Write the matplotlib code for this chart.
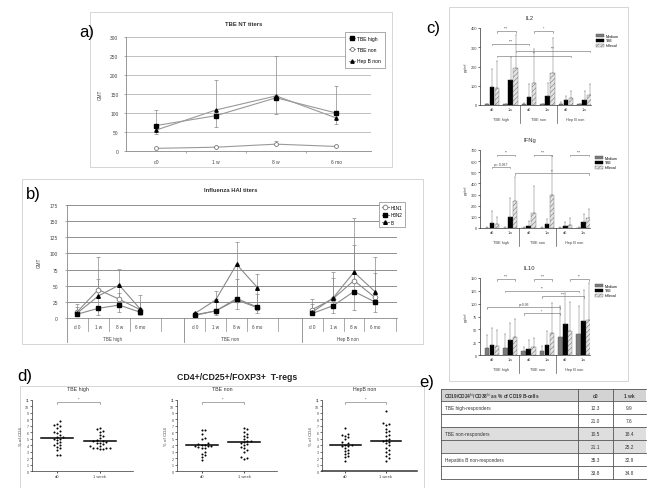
import numpy as np
import matplotlib.pyplot as plt
from matplotlib.patches import Rectangle

plt.rcParams['font.family'] = ['Liberation Sans', 'DejaVu Sans']
plt.rcParams['hatch.linewidth'] = 0.4
plt.rcParams['hatch.color'] = '#777777'

W, H = 660, 489

# a) TBE NT titers
a_times = ['d0', '1 w', '8 w', '6 mo']
a_tbe_high = [67, 93, 140, 100]
a_tbe_non = [7, 10, 18, 12]
a_hepb_non = [55, 108, 145, 87]
a_err_bottom = [45, 62, 97, 72]
a_err_top = [107, 187, 250, 172]
a_non_err_top = [9, 13, 26, 15]

# b) Influenza HAI titers
b_groups = ['TBE high', 'TBE non', 'Hep B non']
b_times = ['d 0', '1 w', '8 w', '6 mo']
b_h1n1 = [[10, 44, 29, 13], [5, 11, 28, 16], [13, 30, 58, 32]]
b_h3n2 = [[6, 15, 20, 9], [4, 11, 30, 17], [7, 19, 41, 25]]
b_b = [[8, 34, 51, 14], [7, 28, 83, 47], [9, 31, 71, 41]]
b_err_top = [[22, 94, 76, 35], [10, 42, 118, 68], [30, 72, 155, 94]]
b_err_top2 = [[17, 60, 38, 25], [8, 30, 60, 37], [22, 62, 113, 70]]
b_err_bottom = [[3, 5, 9, 5], [2, 5, 14, 7], [4, 8, 13, 9]]

# c) cytokines
c_ticks = ['d0', '1w', 'd0', '1w', 'd0', '1w']
c_groups = ['TBE high', 'TBE non', 'Hep B non']
c_stims = ['Medium', 'TBE', 'Inflexal']
il2_medium = [3, 3, 4, 3, 5, 3]
il2_tbe = [95, 130, 40, 45, 25, 28]
il2_infl = [90, 190, 115, 165, 35, 50]
il2_medium_top = [6, 6, 8, 6, 17, 6]
il2_tbe_top = [188, 249, 110, 113, 49, 71]
il2_infl_top = [231, 362, 289, 348, 75, 108]
il2_sig = [(0.27, 1.27, 384, '***'), (2.27, 3.27, 384, '*'), (0, 2, 318, '***'),
           (1.27, 5.27, 283, '***'), (0.27, 4.27, 257, '**')]

ifng_medium = [3, 3, 4, 3, 3, 3]
ifng_tbe = [45, 100, 20, 35, 20, 50]
ifng_infl = [40, 245, 135, 295, 30, 90]
ifng_medium_top = [6, 6, 8, 6, 6, 6]
ifng_tbe_top = [149, 265, 60, 85, 55, 125]
ifng_infl_top = [98, 456, 375, 650, 90, 175]
ifng_sig = [(0.27, 1.27, 658, '**'), (0, 1, 551, 'p= 0.067'), (2.27, 3.27, 658, '***'),
            (4.27, 5.27, 658, '***'), (1.27, 5.27, 492, '**')]

il10_medium = [14, 14, 8, 8, 35, 41]
il10_tbe = [20, 30, 12, 20, 60, 66]
il10_infl = [17, 35, 15, 42, 47, 69]
il10_medium_top = [38, 41, 16, 18, 96, 96]
il10_tbe_top = [52, 63, 30, 46, 120, 127]
il10_infl_top = [48, 70, 34, 102, 103, 140]
il10_sig = [(0.27, 1.27, 148, '***'), (2.27, 3.27, 148, '***'), (4.27, 5.27, 148, '**'),
            (0.73, 4.73, 125, '**'), (2.73, 5.0, 114, '***'), (-0.27, 3.73, 93, 'p=0.06'),
            (1.73, 3.73, 81, '*')]

# d) T-regs, % of CD4
d_titles = ['TBE high', 'TBE non', 'HepB non']
d_d0 = [[7.7, 7.3, 7.1, 7.0, 6.7, 6.2, 6.0, 5.9, 5.6, 5.3, 5.2, 5.0, 4.9, 4.8, 4.5, 4.3, 4.1, 4.0, 3.7, 3.5, 3.2, 2.5, 2.5],
        [6.4, 6.3, 5.7, 5.1, 5.0, 4.4, 4.2, 4.1, 4.0, 3.9, 3.8, 3.8, 3.7, 3.6, 3.5, 3.0, 2.7, 2.5, 2.2, 1.7],
        [6.6, 5.7, 5.6, 5.4, 5.2, 4.9, 4.5, 4.3, 4.1, 4.0, 3.9, 3.8, 3.6, 3.3, 3.1, 2.8, 2.6, 2.3, 2.1, 1.5]]
d_wk1 = [[6.6, 6.5, 6.2, 6.1, 5.6, 5.4, 5.1, 4.8, 4.7, 4.6, 4.5, 4.4, 4.3, 4.2, 3.9, 3.8, 3.6, 3.5, 3.5, 3.5, 3.4, 3.4],
         [6.7, 6.5, 6.1, 5.8, 5.5, 5.2, 5.0, 4.7, 4.6, 4.5, 4.4, 4.2, 4.0, 3.7, 3.5, 3.3, 2.9, 2.2, 2.0, 1.9],
         [9.3, 7.5, 7.3, 7.2, 6.5, 6.2, 6.0, 5.6, 5.4, 5.0, 4.8, 4.7, 4.5, 4.3, 4.0, 3.6, 3.3, 3.0, 2.7, 2.3, 2.0, 1.6]]
d_lines = [[5.1, 4.7], [4.0, 4.5], [4.0, 4.7]]

# e) table
e_header = ['CD19/CD24$^{\\rm hi}$/CD38$^{\\rm hi}$ as % of CD19 B-cells', 'd0', '1 wk']
e_rows = ['TBE high-responders', '', 'TBE non-responders', '', 'Hepatitis B non-responders', '']
e_d0 = ['12.3', '21.0', '10.5', '21.1', '35.3', '33.8']
e_wk1 = ['9.9', '7.6', '18.4', '25.2', '32.9', '34.8']

TXT = '#444444'


def rect(l, t, r, b):
    return [l / W, 1 - b / H, (r - l) / W, (b - t) / H]


fig = plt.figure(figsize=(W / 100, H / 100), dpi=100)
bg = fig.add_axes([0, 0, 1, 1], zorder=-5)
bg.set_xlim(0, W)
bg.set_ylim(H, 0)
bg.axis('off')

# panel frames and labels
for l, t, r, b in [(90, 13, 392, 168), (22, 180, 423, 345), (449, 8, 628, 382), (20, 387, 424, 492)]:
    bg.add_patch(Rectangle((l, t), r - l, b - t, fill=False, ec='#cfcfcf', lw=0.6))
for lab, x, y in [('a)', 87, 32), ('b)', 33, 195), ('c)', 433, 28), ('d)', 25, 377), ('e)', 427, 383)]:
    bg.text(x, y, lab, fontsize=12, ha='center', va='center', color='black')
bg.text(237, 377, 'CD4+/CD25+/FOXP3+  T-regs', fontsize=6.3, fontweight='bold',
        ha='center', va='center', color='#222222')

# ---------- a)
ax = fig.add_axes(rect(126, 38, 371, 152))
x = np.arange(len(a_times))
ax.errorbar(x, a_tbe_high, yerr=[np.subtract(a_tbe_high, a_err_bottom), np.subtract(a_err_top, a_tbe_high)],
            fmt='none', ecolor='#888888', elinewidth=0.5, capsize=1.2, capthick=0.5)
ax.errorbar(x, a_tbe_non, yerr=[np.zeros(4), np.subtract(a_non_err_top, a_tbe_non)],
            fmt='none', ecolor='#888888', elinewidth=0.5, capsize=1.2, capthick=0.5)
ax.plot(x, a_tbe_high, color='#999999', lw=0.8, marker='s', ms=2.4, mfc='black', mec='black', label='TBE high')
ax.plot(x, a_tbe_non, color='#999999', lw=0.8, marker='o', ms=2.8, mfc='white', mec='#777777', mew=0.6, label='TBE non')
ax.plot(x, a_hepb_non, color='#999999', lw=0.8, marker='^', ms=2.4, mfc='black', mec='black', label='Hep B non')
ax.set_ylim(0, 300)
ax.set_yticks(range(0, 301, 50))
ax.set_xlim(-0.5, 3.58)
ax.set_xticks(x)
ax.set_xticklabels(a_times)
ax.set_xticks([0.5, 1.5, 2.5], minor=True)
ax.tick_params(axis='x', which='major', length=0, pad=6, labelsize=3.5, labelcolor=TXT)
ax.tick_params(axis='x', which='minor', length=1.5, width=0.5, color='#888888')
ax.tick_params(axis='y', length=1.5, width=0.5, color='#888888', labelsize=3.5, labelcolor=TXT, pad=4)
ax.yaxis.grid(True, color='#b5b5b5', lw=0.6)
ax.set_axisbelow(True)
for s in ['top', 'right']:
    ax.spines[s].set_visible(False)
for s in ['left', 'bottom']:
    ax.spines[s].set_color('#888888')
    ax.spines[s].set_linewidth(0.6)
ax.set_ylabel('GMT', fontsize=3.3, color=TXT, labelpad=5)
ax.text(0.48, 1.12, 'TBE NT titers', transform=ax.transAxes, fontsize=4.2, fontweight='bold',
        ha='center', va='center', color='#333333')
ax.legend(loc='upper left', bbox_to_anchor=(342 / W, 1 - 30 / H), bbox_transform=fig.transFigure,
          fontsize=3.6, frameon=True, fancybox=False, edgecolor='#888888', framealpha=1,
          handlelength=1.3, labelspacing=1.3, borderpad=0.8, handletextpad=0.4).get_frame().set_linewidth(0.5)

# ---------- b)
ax = fig.add_axes(rect(67, 206, 397, 319))
gap = 5.62
for g in range(3):
    xs = np.arange(4) + g * gap
    ax.errorbar(xs, b_b[g], yerr=[np.subtract(b_b[g], b_err_bottom[g]), np.subtract(b_err_top[g], b_b[g])],
                fmt='none', ecolor='#888888', elinewidth=0.5, capsize=1.2, capthick=0.5)
    ax.errorbar(xs, b_h1n1[g], yerr=[np.zeros(4), np.clip(np.subtract(b_err_top2[g], b_h1n1[g]), 0, None)],
                fmt='none', ecolor='#888888', elinewidth=0.5, capsize=1.2, capthick=0.5)
    ax.plot(xs, b_h1n1[g], color='#8a8a8a', lw=0.8, marker='o', ms=3.4, mfc='white', mec='#777777', mew=0.6,
            label='H1N1' if g == 0 else None)
    ax.plot(xs, b_h3n2[g], color='#8a8a8a', lw=0.8, marker='s', ms=2.5, mfc='black', mec='black',
            label='H3N2' if g == 0 else None)
    ax.plot(xs, b_b[g], color='#8a8a8a', lw=0.8, marker='^', ms=2.6, mfc='black', mec='black',
            label='B' if g == 0 else None)
    tr = ax.get_xaxis_transform()
    for i, t in enumerate(b_times):
        ax.text(g * gap + i, -0.075, t, transform=tr, fontsize=3.3, ha='center', va='center', color=TXT)
    for sx in [0.5, 1.5, 2.5, 4.0]:
        ax.plot([g * gap + sx] * 2, [0, -0.115], transform=tr, color='#888888', lw=0.5, clip_on=False)
    ax.plot([g * gap - 0.5] * 2, [0, -0.21], transform=tr, color='#888888', lw=0.6, clip_on=False)
    ax.text(g * gap + 1.7, -0.18, b_groups[g], transform=tr, fontsize=3.3, ha='center', va='center', color=TXT)
ax.set_xlim(-0.5, 15.3)
ax.set_ylim(0, 175)
ax.set_yticks(range(0, 176, 25))
ax.set_xticks([])
ax.tick_params(axis='y', length=1.5, width=0.5, color='#888888', labelsize=3.5, labelcolor=TXT, pad=5)
ax.yaxis.grid(True, color='#8f8f8f', lw=0.7)
ax.set_axisbelow(True)
for s in ['top', 'right']:
    ax.spines[s].set_visible(False)
for s in ['left', 'bottom']:
    ax.spines[s].set_color('#888888')
    ax.spines[s].set_linewidth(0.6)
ax.set_ylabel('GMT', fontsize=3.3, color=TXT, labelpad=6)
ax.text(0.495, 1.14, 'Influenza HAI titers', transform=ax.transAxes, fontsize=4.2, fontweight='bold',
        ha='center', va='center', color='#333333')
ax.legend(loc='upper left', bbox_to_anchor=(377 / W, 1 - 201 / H), bbox_transform=fig.transFigure,
          fontsize=3.3, frameon=True, fancybox=False, edgecolor='#888888', framealpha=1,
          handlelength=1.6, labelspacing=0.6, borderpad=0.5, handletextpad=0.4).get_frame().set_linewidth(0.5)

# ---------- c)
cyto = [('IL2', (480, 29, 591, 106), 400, 100, il2_medium, il2_tbe, il2_infl,
         il2_medium_top, il2_tbe_top, il2_infl_top, il2_sig),
        ('IFNg', (480, 151, 590, 229), 700, 100, ifng_medium, ifng_tbe, ifng_infl,
         ifng_medium_top, ifng_tbe_top, ifng_infl_top, ifng_sig),
        ('IL10', (480, 279, 590, 356), 150, 25, il10_medium, il10_tbe, il10_infl,
         il10_medium_top, il10_tbe_top, il10_infl_top, il10_sig)]
styles = [dict(color='#7a7a7a', edgecolor='#555555'),
          dict(color='black', edgecolor='black'),
          dict(color='#e4e4e4', edgecolor='#777777', hatch='///////')]
for name, box, ymax, step, med, tbe, infl, med_top, tbe_top, infl_top, sig in cyto:
    ax = fig.add_axes(rect(*box))
    xc = np.arange(6)
    for k, (vals, tops) in enumerate([(med, med_top), (tbe, tbe_top), (infl, infl_top)]):
        xs = xc + (k - 1) * 0.27
        ax.bar(xs, vals, width=0.25, linewidth=0.3, label=c_stims[k], **styles[k])
        ax.errorbar(xs, vals, yerr=[np.zeros(6), np.subtract(tops, vals)], fmt='none',
                    ecolor='#777777', elinewidth=0.35, capsize=0.9, capthick=0.35)
    for x1, x2, y, lab in sig:
        d = ymax * 0.02
        ax.plot([x1, x1, x2, x2], [y - d, y, y, y - d], color='#666666', lw=0.4, clip_on=False)
        ax.text((x1 + x2) / 2, y + d * 0.6, lab, fontsize=2.4, ha='center', va='bottom', color=TXT)
    ax.set_xlim(-0.65, 5.35)
    ax.set_ylim(0, ymax)
    ax.set_yticks(np.arange(0, ymax + 1, step))
    ax.set_xticks(xc)
    ax.set_xticklabels(c_ticks)
    ax.tick_params(axis='x', length=0, pad=1.5, labelsize=2.8, labelcolor=TXT)
    ax.tick_params(axis='y', length=1.2, width=0.4, labelsize=2.8, labelcolor=TXT, pad=0.8)
    for s in ['top', 'right']:
        ax.spines[s].set_visible(False)
    for s in ['left', 'bottom']:
        ax.spines[s].set_linewidth(0.5)
        ax.spines[s].set_color('#333333')
    tr = ax.get_xaxis_transform()
    for sx in [1.5, 3.5]:
        ax.plot([sx, sx], [0, -0.23], transform=tr, color='#555555', lw=0.5, clip_on=False)
    for g, gname in enumerate(c_groups):
        ax.text(2 * g + 0.5, -0.18, gname, transform=tr, fontsize=2.8, ha='center', va='center', color=TXT)
    ax.set_ylabel('pg/ml', fontsize=2.8, color=TXT, labelpad=2)
    ax.text(0.45, 1.14, name, transform=ax.transAxes, fontsize=4.2, ha='center', va='center', color='#333333')
    ax.legend(loc='upper left', bbox_to_anchor=(1.02, 0.97), fontsize=2.6, frameon=False,
              handlelength=2.2, handleheight=0.9, labelspacing=0.25, handletextpad=0.4)


# ---------- d)
def swarm(vals, dx=0.075, dy=0.42):
    vals = np.asarray(vals)
    offs = np.zeros(len(vals))
    placed = []
    for i in np.argsort(vals):
        for k in range(40):
            cand = ((k + 1) // 2) * dx * (1 if k % 2 else -1)
            if all(((cand - ox) / dx) ** 2 + ((vals[i] - oy) / dy) ** 2 >= 1 for ox, oy in placed):
                break
        offs[i] = cand
        placed.append((cand, vals[i]))
    return offs


for j, box in enumerate([(32, 401, 133, 472), (177, 401, 277, 472), (322, 401, 417, 472)]):
    ax = fig.add_axes(rect(*box))
    for pos, vals in [(0, d_d0[j]), (1, d_wk1[j])]:
        ax.scatter(pos + swarm(vals), vals, s=2.2, color='black', linewidths=0, zorder=3)
        ax.plot([pos - 0.38, pos + 0.38], [d_lines[j][pos]] * 2, color='black', lw=1.1, zorder=4)
    ax.plot([0, 0, 1, 1], [10.45, 10.75, 10.75, 10.45], color='#666666', lw=0.4, clip_on=False)
    ax.text(0.5, 10.85, '*', fontsize=3, ha='center', va='bottom', color=TXT)
    ax.set_xlim(-0.58, 1.77)
    ax.set_ylim(0, 11)
    ax.set_yticks(range(0, 12))
    ax.set_xticks([0, 1])
    ax.set_xticklabels(['d0', '1 week'])
    ax.tick_params(axis='x', length=1.5, width=0.5, pad=1, labelsize=3, labelcolor=TXT)
    ax.tick_params(axis='y', length=1.2, width=0.4, pad=0.8, labelsize=2.6, labelcolor=TXT)
    for s in ['top', 'right']:
        ax.spines[s].set_visible(False)
    for s in ['left', 'bottom']:
        ax.spines[s].set_linewidth(0.5)
        ax.spines[s].set_color('#333333')
    if j == 2:
        ax.spines['bottom'].set_linewidth(1.1)
    ax.set_ylabel('% of CD4', fontsize=3.2, color=TXT, labelpad=1.5)
    ax.text(0.45, 1.155, d_titles[j], transform=ax.transAxes, fontsize=3.8, ha='center', va='center',
            color='#333333')

# ---------- e) table
cols = [441, 578, 613, 646]
row_top = [390] + [402 + 13 * i for i in range(6)]
row_bot = [402] + [415 + 13 * i for i in range(6)]
fills = ['#d3d3d3', 'white', 'white', '#dedede', '#dedede', 'white', 'white']
for r in range(7):
    bg.add_patch(Rectangle((cols[0], row_top[r]), cols[-1] - cols[0], row_bot[r] - row_top[r],
                           facecolor=fills[r], edgecolor='none'))
    bg.plot([cols[0], cols[-1]], [row_top[r]] * 2, color='#555555', lw=0.6)
bg.plot([cols[0], cols[-1]], [row_bot[-1]] * 2, color='#555555', lw=0.6)
for cx in cols[:3]:
    bg.plot([cx, cx], [row_top[0], row_bot[-1]], color='#555555', lw=0.6)
bg.text(cols[0] + 3, 396, e_header[0], fontsize=3.4, fontweight='bold', ha='left', va='center', color='#333333')
bg.text((cols[1] + cols[2]) / 2, 396, e_header[1], fontsize=3.4, fontweight='bold', ha='center', va='center',
        color='#333333')
bg.text((cols[2] + cols[3]) / 2, 396, e_header[2], fontsize=3.4, fontweight='bold', ha='center', va='center',
        color='#333333')
for r in range(6):
    yc = (row_top[r + 1] + row_bot[r + 1]) / 2
    bg.text(cols[0] + 4, yc, e_rows[r], fontsize=3.4, ha='left', va='center', color='#333333')
    bg.text((cols[1] + cols[2]) / 2, yc, e_d0[r], fontsize=3.4, ha='center', va='center', color='#333333')
    bg.text((cols[2] + cols[3]) / 2, yc, e_wk1[r], fontsize=3.4, ha='center', va='center', color='#333333')

fig.savefig('out.png', dpi=100)
